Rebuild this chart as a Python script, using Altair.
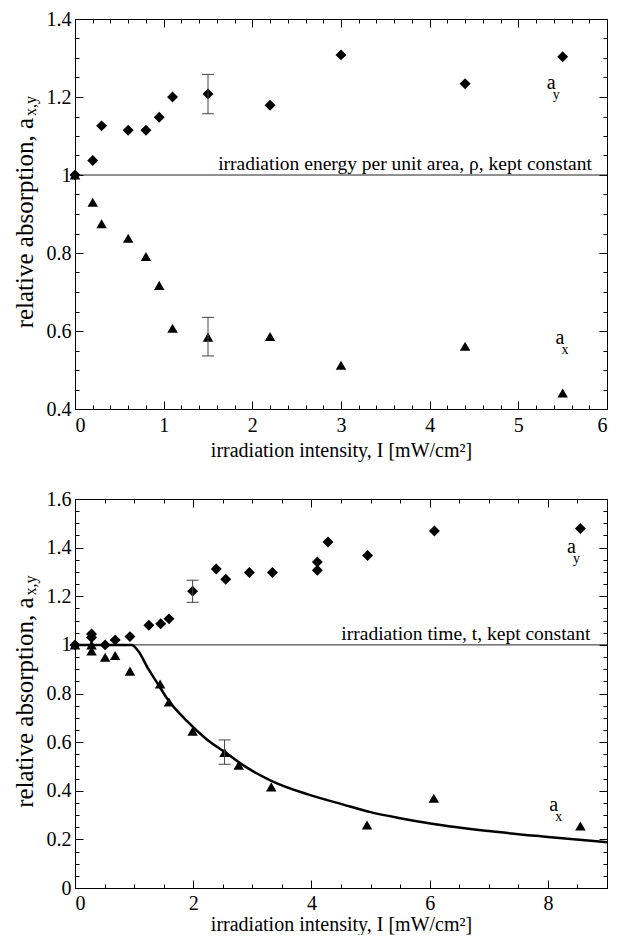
import altair as alt
import pandas as pd

FONT = "Times New Roman, Liberation Serif, serif"

# ---------------- top panel (rho kept constant) ----------------
top_x = [0, 0.2, 0.3, 0.6, 0.8, 0.95, 1.1, 1.5, 2.2, 3.0, 4.4, 5.5]
top_ay = [1.0, 1.037, 1.126, 1.115, 1.115, 1.148, 1.200, 1.208, 1.179, 1.308, 1.234, 1.303]
top_ax = [1.0, 0.930, 0.875, 0.838, 0.791, 0.717, 0.607, 0.584, 0.586, 0.512, 0.561, 0.441]
top_err_x = [1.5, 1.5]
top_err_lo = [1.157, 0.536]
top_err_hi = [1.258, 0.635]
top_xticks = [0, 1, 2, 3, 4, 5, 6]
top_xminor = [round(i * 0.2, 2) for i in range(31)]
top_yticks = [0.4, 0.6, 0.8, 1, 1.2, 1.4]
top_yminor = [round(0.4 + i * 0.05, 2) for i in range(21)]
top_note = "irradiation energy per unit area, ρ, kept constant"
top_note_x = 5.83
top_lab_x = [5.37, 5.47]
top_lab_y = [1.237, 0.583]

# ---------------- bottom panel (t kept constant) ----------------
bot_ay_x = [0, 0.28, 0.28, 0.51, 0.68, 0.93, 1.25, 1.45, 1.59, 1.99, 2.39, 2.55, 2.95, 3.34, 4.10, 4.10, 4.28, 4.95, 6.08, 8.55]
bot_ay = [1.0, 1.045, 1.03, 1.0, 1.02, 1.034, 1.081, 1.087, 1.107, 1.221, 1.312, 1.270, 1.298, 1.298, 1.341, 1.307, 1.423, 1.368, 1.468, 1.479]
bot_ax_x = [0, 0.28, 0.28, 0.51, 0.68, 0.93, 1.44, 1.59, 1.99, 2.53, 2.77, 3.32, 4.94, 6.07, 8.55]
bot_ax = [1.0, 1.0, 0.975, 0.949, 0.956, 0.892, 0.839, 0.765, 0.645, 0.557, 0.505, 0.416, 0.259, 0.369, 0.255]
bot_err_x = [1.99, 2.53]
bot_err_lo = [1.175, 0.509]
bot_err_hi = [1.266, 0.609]
curve_x = [0, 0.96, 1.07, 1.245, 1.40, 1.567, 1.90, 2.23, 2.56, 2.89, 3.33, 3.94, 4.54, 5.0, 5.5, 6.04, 7.0, 8.0, 9.0]
curve_y = [1.0, 1.0, 0.975, 0.899, 0.840, 0.776, 0.685, 0.611, 0.555, 0.498, 0.440, 0.385, 0.343, 0.312, 0.287, 0.264, 0.234, 0.210, 0.188]
bot_xticks = [0, 2, 4, 6, 8]
bot_xminor = [i * 0.5 for i in range(19)]
bot_yticks = [0, 0.2, 0.4, 0.6, 0.8, 1, 1.2, 1.4, 1.6]
bot_yminor = [round(i * 0.05, 2) for i in range(33)]
bot_note = "irradiation time, t, kept constant"
bot_note_x = 8.72
bot_lab_x = [8.40, 8.10]
bot_lab_y = [1.403, 0.340]

lab_main = ["a", "a"]
lab_sub = ["y", "x"]

W = 532


def tick_axis(orient, values, size):
    return alt.Axis(orient=orient, offset=-size, tickSize=size, values=values,
                    labels=False, domain=False, grid=False, title=None,
                    tickColor="black", tickWidth=1)


def panel(xs_ay, ays, xs_ax, axs, ex, elo, ehi, xdom, ydom, xt, xm, yt, ym,
          note, note_x, lab_x, lab_y, H, lpad, tpad, curve=None):
    xsc = alt.Scale(domain=xdom, nice=False, zero=False)
    ysc = alt.Scale(domain=ydom, nice=False, zero=False)

    df_ay = pd.DataFrame({"x": xs_ay, "y": ays})
    df_ax = pd.DataFrame({"x": xs_ax, "y": axs})
    df_err = pd.DataFrame({"x": ex, "lo": elo, "hi": ehi})
    df_caps = pd.DataFrame({"x": ex + ex, "y": elo + ehi})
    df_lab = pd.DataFrame({"x": lab_x, "y": lab_y, "m": lab_main, "s": lab_sub})
    df_note = pd.DataFrame({"x": [note_x], "y": [1.0], "t": [note]})
    df_one = pd.DataFrame({"y": [1.0]})
    df_title = pd.DataFrame({"m": ["relative absorption, a"], "s": ["x,y"]})

    label_x_axis = alt.Axis(orient="bottom", values=xt, ticks=False, domain=False, grid=False,
                            labelFont=FONT, labelFontSize=20, labelColor="black", labelPadding=lpad,
                            title="irradiation intensity, I [mW/cm²]", titleFont=FONT,
                            titleFontSize=20, titleFontWeight="normal", titleColor="black",
                            titlePadding=tpad)
    label_y_axis = alt.Axis(orient="left", values=yt, ticks=False, domain=False, grid=False,
                            format="~g", labelFont=FONT, labelFontSize=20, labelColor="black",
                            labelPadding=4, title=None)

    ay_pts = alt.Chart(df_ay).mark_point(shape="diamond", filled=True, size=120,
                                         color="black", opacity=1).encode(
        x=alt.X("x:Q", scale=xsc, axis=label_x_axis),
        y=alt.Y("y:Q", scale=ysc, axis=label_y_axis))
    ax_pts = alt.Chart(df_ax).mark_point(shape="triangle-up", filled=True, size=110,
                                         color="black", opacity=1).encode(
        x=alt.X("x:Q", scale=xsc, axis=tick_axis("bottom", xt, 8)),
        y=alt.Y("y:Q", scale=ysc, axis=tick_axis("left", yt, 8)))
    err = alt.Chart(df_err).mark_rule(color="#444", strokeWidth=1).encode(
        x=alt.X("x:Q", scale=xsc, axis=tick_axis("bottom", xm, 4)),
        y=alt.Y("lo:Q", scale=ysc, axis=tick_axis("left", ym, 4)),
        y2="hi:Q")
    caps = alt.Chart(df_caps).mark_tick(orient="horizontal", size=12, thickness=1,
                                        color="#444", opacity=1).encode(
        x=alt.X("x:Q", scale=xsc, axis=tick_axis("top", xt, 8)),
        y=alt.Y("y:Q", scale=ysc, axis=tick_axis("right", yt, 8)))
    labs = alt.Chart(df_lab).mark_text(font=FONT, fontSize=20, color="black",
                                       baseline="middle", align="center").encode(
        x=alt.X("x:Q", scale=xsc, axis=tick_axis("top", xm, 4)),
        y=alt.Y("y:Q", scale=ysc, axis=tick_axis("right", ym, 4)),
        text="m:N")
    subs = alt.Chart(df_lab).mark_text(font=FONT, fontSize=14, color="black",
                                       baseline="middle", align="center", dx=5, dy=12).encode(
        x=alt.X("x:Q", scale=xsc, axis=None),
        y=alt.Y("y:Q", scale=ysc, axis=None),
        text="s:N")
    note_t = alt.Chart(df_note).mark_text(font=FONT, fontSize=19.5, color="black",
                                          baseline="bottom", align="right", dy=-1).encode(
        x=alt.X("x:Q", scale=xsc, axis=None),
        y=alt.Y("y:Q", scale=ysc, axis=None),
        text="t:N")
    hline = alt.Chart(df_one).mark_rule(color="#222", strokeWidth=1).encode(
        y=alt.Y("y:Q", scale=ysc, axis=None))
    ttl_anchor = H / 2 - 96
    ttl_main = alt.Chart(df_title).mark_text(font=FONT, fontSize=25, color="black",
                                             angle=270, align="right", baseline="middle").encode(
        x=alt.value(-50), y=alt.value(ttl_anchor), text="m:N")
    ttl_sub = alt.Chart(df_title).mark_text(font=FONT, fontSize=16, color="black",
                                            angle=270, align="left", baseline="middle").encode(
        x=alt.value(-44), y=alt.value(ttl_anchor - 2), text="s:N")

    layers = [hline, ay_pts, ax_pts, err, caps, labs, subs, note_t, ttl_main, ttl_sub]
    if curve is not None:
        df_c = pd.DataFrame({"x": curve[0], "y": curve[1]})
        line = alt.Chart(df_c).mark_line(color="black", strokeWidth=2.5,
                                         interpolate="monotone").encode(
            x=alt.X("x:Q", scale=xsc, axis=None),
            y=alt.Y("y:Q", scale=ysc, axis=None))
        layers.insert(1, line)
    return alt.layer(*layers).resolve_axis(x="independent", y="independent").properties(
        width=W, height=H)


top = panel(top_x, top_ay, top_x, top_ax, top_err_x, top_err_lo, top_err_hi,
            [0, 6], [0.4, 1.4], top_xticks, top_xminor, top_yticks, top_yminor,
            top_note, top_note_x, top_lab_x, top_lab_y, 390, 6, 5)
bot = panel(bot_ay_x, bot_ay, bot_ax_x, bot_ax, bot_err_x, bot_err_lo, bot_err_hi,
            [0, 9], [0, 1.6], bot_xticks, bot_xminor, bot_yticks, bot_yminor,
            bot_note, bot_note_x, bot_lab_x, bot_lab_y, 389, 5, 1, curve=(curve_x, curve_y))

chart = alt.vconcat(top, bot, spacing=27).properties(
    padding={"left": 4, "top": 0, "right": 0, "bottom": 0},
    background="white",
).configure_view(stroke="black", strokeWidth=1)

chart.save("out.html", embed_options={"renderer": "svg", "actions": False})
